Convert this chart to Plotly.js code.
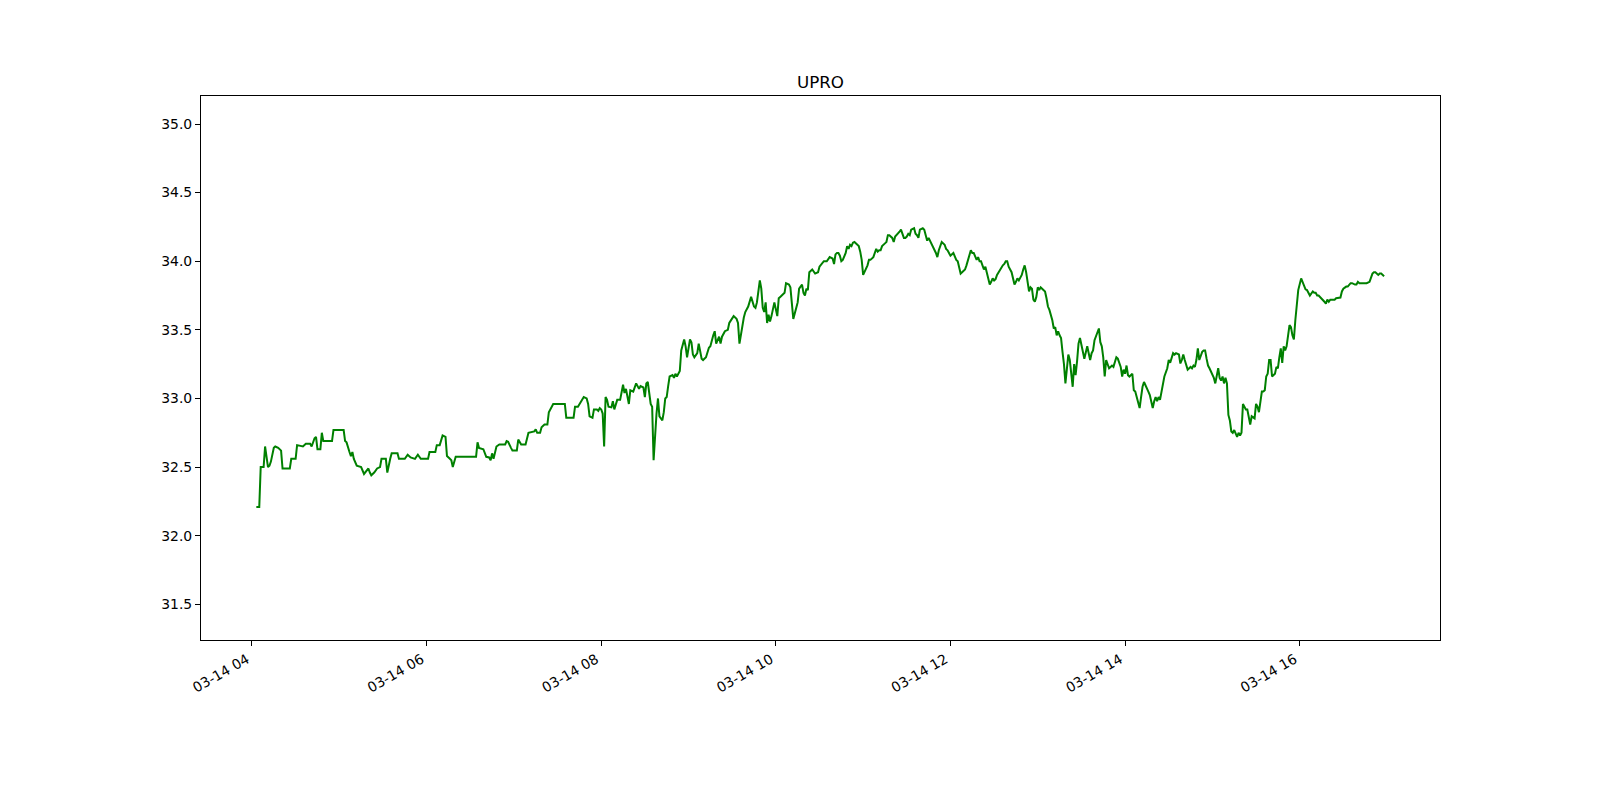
<!DOCTYPE html>
<html>
<head>
<meta charset="utf-8">
<script src="https://cdn.plot.ly/plotly-3.0.1.min.js"></script>
<style>html,body{margin:0;padding:0;background:#fff;}#chart{width:1600px;height:800px;}</style>
</head>
<body>
<div id="chart"></div>
<script>
const chartTitle = "UPRO";
const tradeDate = "2024-03-14";
const times = [
"04:03","04:05","04:06","04:08","04:09","04:11","04:12","04:13","04:15","04:16","04:18","04:20","04:21","04:26","04:27","04:30","04:31","04:35","04:37","04:40","04:41","04:43","04:44","04:45","04:47","04:48","04:49","04:55","04:56",
"05:03","05:04","05:05","05:07","05:08","05:09","05:10","05:12","05:15","05:17","05:20","05:21","05:22","05:24","05:26","05:28","05:29","05:32","05:33","05:35","05:36","05:40","05:41","05:45","05:47","05:49","05:52","05:54","05:56",
"06:01","06:02","06:06","06:07","06:09","06:11","06:13","06:14","06:16","06:17","06:18","06:20","06:34","06:35","06:36","06:39","06:41","06:43","06:44","06:45","06:46","06:47","06:48","06:50","06:54","06:55","06:56","06:58","06:59",
"07:02","07:03","07:05","07:08","07:10","07:14","07:15","07:16","07:18","07:19","07:21","07:23","07:24","07:25","07:27","07:35","07:36","07:41","07:42","07:44","07:46","07:48","07:50","07:51","07:52","07:54","07:55","07:57","07:58","07:59",
"08:00","08:01","08:02","08:03","08:04","08:05","08:07","08:08","08:09","08:11","08:13","08:15","08:16","08:17","08:19","08:20","08:22","08:24","08:26","08:27","08:29","08:30","08:31","08:32","08:34","08:35","08:36","08:37","08:38","08:39","08:40","08:42","08:43","08:44","08:45","08:46","08:47","08:49","08:50","08:51","08:52","08:54","08:55","08:57","08:58","08:59",
"09:01","09:02","09:03","09:04","09:06","09:07","09:09","09:10","09:12","09:14","09:15","09:17","09:18","09:19","09:21","09:22","09:23","09:25","09:27","09:28","09:30","09:31","09:33","09:34","09:35","09:36","09:38","09:39","09:41","09:43","09:45","09:46","09:47","09:49","09:50","09:51","09:52","09:53","09:54","09:55","09:56","09:57","09:58","09:59",
"10:01","10:02","10:03","10:04","10:06","10:07","10:09","10:10","10:11","10:12","10:14","10:15","10:16","10:18","10:19","10:20","10:21","10:22","10:23","10:25","10:27","10:29","10:30","10:33","10:35","10:37","10:39","10:40","10:41","10:42","10:43","10:44","10:45","10:46","10:48","10:49","10:50","10:51","10:52","10:53","10:54","10:56","10:57","10:58","10:59",
"11:00","11:01","11:02","11:03","11:04","11:05","11:07","11:08","11:09","11:10","11:11","11:12","11:13","11:15","11:16","11:17","11:18","11:20","11:21","11:22","11:23","11:24","11:25","11:26","11:28","11:29","11:30","11:31","11:32","11:33","11:35","11:36","11:37","11:38","11:39","11:41","11:42","11:43","11:44","11:45","11:47","11:48","11:49","11:50","11:51","11:52","11:54","11:55","11:56","11:57","11:58","11:59",
"12:00","12:02","12:03","12:04","12:05","12:06","12:07","12:08","12:10","12:11","12:12","12:13","12:14","12:15","12:16","12:18","12:19","12:20","12:21","12:22","12:23","12:24","12:26","12:27","12:28","12:29","12:30","12:31","12:32","12:34","12:35","12:36","12:37","12:38","12:39","12:40","12:42","12:43","12:44","12:45","12:46","12:47","12:49","12:50","12:51","12:52","12:53","12:54","12:55","12:56","12:57","12:58","12:59",
"13:00","13:01","13:02","13:03","13:05","13:06","13:07","13:08","13:09","13:10","13:11","13:12","13:13","13:14","13:15","13:16","13:17","13:18","13:19","13:20","13:21","13:22","13:23","13:24","13:25","13:26","13:27","13:28","13:29","13:30","13:31","13:32","13:33","13:34","13:35","13:36","13:37","13:38","13:39","13:40","13:42","13:43","13:44","13:45","13:46","13:47","13:49","13:50","13:51","13:52","13:53","13:54","13:55","13:57","13:58","13:59",
"14:00","14:01","14:02","14:03","14:05","14:06","14:07","14:08","14:09","14:10","14:11","14:12","14:13","14:14","14:16","14:17","14:18","14:19","14:20","14:21","14:22","14:23","14:24","14:25","14:26","14:27","14:29","14:30","14:31","14:32","14:33","14:34","14:35","14:37","14:38","14:39","14:40","14:41","14:42","14:43","14:45","14:46","14:47","14:48","14:49","14:50","14:51","14:53","14:54","14:55","14:56","14:57","14:58",
"15:00","15:01","15:02","15:03","15:04","15:05","15:06","15:07","15:08","15:09","15:10","15:11","15:12","15:13","15:14","15:15","15:17","15:18","15:19","15:20","15:21","15:22","15:23","15:24","15:25","15:26","15:27","15:29","15:30","15:31","15:32","15:33","15:34","15:35","15:36","15:37","15:38","15:39","15:40","15:41","15:43","15:44","15:45","15:46","15:47","15:48","15:49","15:50","15:51","15:53","15:54","15:55","15:56","15:57","15:58","15:59",
"16:01","16:02","16:03","16:04","16:05","16:06","16:07","16:09","16:10","16:11","16:12","16:13","16:14","16:15","16:17","16:18","16:19","16:20","16:21","16:22","16:24","16:25","16:26","16:28","16:29","16:30","16:32","16:33","16:35","16:36","16:38","16:39","16:40","16:41","16:42","16:44","16:46","16:48","16:49","16:50","16:51","16:52","16:54","16:55","16:56","16:57","16:58"
];
const prices = [
32.21,32.21,32.50,32.50,32.65,32.50,32.51,32.54,32.64,32.65,32.64,32.62,32.49,32.49,32.56,32.56,32.66,32.65,32.67,32.67,32.65,32.71,32.72,32.63,32.63,32.75,32.69,32.69,32.77,
32.77,32.69,32.68,32.61,32.58,32.61,32.56,32.51,32.50,32.45,32.49,32.46,32.44,32.46,32.49,32.50,32.56,32.56,32.46,32.56,32.60,32.60,32.56,32.56,32.59,32.57,32.56,32.59,32.56,
32.56,32.61,32.61,32.66,32.66,32.73,32.72,32.58,32.56,32.55,32.50,32.575,32.575,32.68,32.64,32.63,32.575,32.57,32.55,32.60,32.56,32.60,32.65,32.665,32.665,32.69,32.685,32.64,32.62,
32.62,32.70,32.665,32.665,32.75,32.76,32.775,32.75,32.75,32.79,32.81,32.81,32.90,32.92,32.96,32.96,32.86,32.86,32.94,32.94,32.98,33.01,33.00,32.96,32.87,32.86,32.92,32.92,32.91,32.93,
32.92,32.89,32.65,33.01,32.99,32.94,32.935,32.98,32.92,32.99,32.99,33.10,33.04,33.07,32.96,33.06,33.05,33.11,33.07,33.09,33.08,33.01,33.11,33.12,32.96,32.94,32.55,32.75,32.89,33.00,32.87,32.84,32.90,33.00,33.01,33.09,33.16,33.17,33.15,33.18,33.16,33.20,33.35,33.43,33.38,33.30,
33.43,33.41,33.32,33.30,33.33,33.40,33.29,33.28,33.30,33.37,33.38,33.46,33.49,33.40,33.45,33.40,33.45,33.49,33.50,33.55,33.58,33.60,33.58,33.55,33.40,33.47,33.59,33.63,33.67,33.74,33.67,33.66,33.70,33.86,33.80,33.66,33.63,33.70,33.55,33.61,33.56,33.60,33.66,33.70,
33.60,33.73,33.74,33.75,33.77,33.84,33.83,33.81,33.69,33.58,33.66,33.70,33.80,33.83,33.77,33.75,33.80,33.79,33.92,33.94,33.91,33.92,33.96,34.00,34.00,34.03,34.02,33.98,34.05,34.06,34.06,34.04,34.00,34.01,34.06,34.11,34.09,34.12,34.11,34.135,34.14,34.12,34.11,34.07,34.01,
33.90,33.92,33.95,33.97,34.01,34.01,34.03,34.06,34.09,34.07,34.08,34.08,34.11,34.13,34.14,34.19,34.19,34.17,34.14,34.18,34.19,34.20,34.215,34.23,34.17,34.17,34.18,34.20,34.19,34.23,34.24,34.20,34.19,34.17,34.23,34.24,34.23,34.19,34.15,34.17,34.13,34.11,34.08,34.06,34.03,34.08,34.14,34.13,34.12,34.09,34.08,34.06,
34.04,34.06,34.03,34.01,34.00,33.96,33.91,33.92,33.94,33.97,34.01,34.05,34.08,34.06,34.06,34.01,34.03,34.00,34.00,33.97,33.94,33.96,33.875,33.83,33.85,33.875,33.86,33.87,33.90,33.94,33.96,33.97,33.98,34.00,34.00,33.96,33.92,33.86,33.83,33.85,33.875,33.86,33.90,33.94,33.97,33.92,33.83,33.78,33.81,33.80,33.72,33.705,33.74,
33.81,33.79,33.81,33.80,33.78,33.73,33.67,33.645,33.61,33.57,33.51,33.52,33.46,33.49,33.46,33.44,33.34,33.25,33.11,33.22,33.32,33.28,33.18,33.085,33.25,33.17,33.27,33.40,33.44,33.40,33.34,33.29,33.35,33.38,33.33,33.28,33.33,33.35,33.425,33.45,33.51,33.41,33.38,33.30,33.16,33.28,33.22,33.23,33.24,33.23,33.27,33.30,33.29,33.23,33.16,33.21,
33.18,33.24,33.17,33.16,33.18,33.06,33.05,33.01,32.98,32.93,33.01,33.085,33.12,33.10,33.05,33.025,32.98,32.93,32.98,33.01,32.98,33.01,32.99,33.04,33.10,33.16,33.22,33.28,33.26,33.29,33.33,33.32,33.33,33.32,33.255,33.28,33.32,33.28,33.24,33.21,33.23,33.22,33.24,33.23,33.28,33.365,33.28,33.34,33.35,33.35,33.29,33.24,33.22,
33.18,33.15,33.11,33.16,33.22,33.15,33.13,33.16,33.11,33.15,33.11,32.88,32.84,32.76,32.75,32.77,32.72,32.75,32.73,32.75,32.96,32.94,32.92,32.92,32.86,32.81,32.87,32.855,32.96,32.94,32.90,32.96,33.05,33.05,33.06,33.16,33.18,33.28,33.28,33.16,33.18,33.23,33.22,33.30,33.365,33.26,33.38,33.35,33.38,33.535,33.52,33.46,33.43,33.57,33.70,33.79,
33.875,33.85,33.815,33.795,33.79,33.77,33.75,33.78,33.77,33.77,33.75,33.75,33.74,33.73,33.705,33.69,33.72,33.705,33.72,33.72,33.72,33.73,33.73,33.735,33.78,33.80,33.815,33.815,33.84,33.84,33.83,33.83,33.85,33.84,33.84,33.84,33.84,33.85,33.89,33.91,33.92,33.92,33.90,33.91,33.91,33.90,33.89
];
const xRange = ["2024-03-14 03:24:58", "2024-03-14 17:36:25"];
const yRange = [31.24, 35.204];

const font = {family: "DejaVu Sans, sans-serif", size: 13.9, color: "#000"};
const trace = {
  x: times.map(t => tradeDate + " " + t),
  y: prices,
  type: "scatter",
  mode: "lines",
  line: {color: "#008000", width: 2},
  hoverinfo: "skip"
};
const axisCommon = {
  showgrid: false, zeroline: false, showline: true, mirror: true,
  linecolor: "#000", linewidth: 1, ticks: "outside", ticklen: 5,
  tickcolor: "#000", tickwidth: 1, tickfont: font
};
const layout = {
  width: 1600, height: 800,
  margin: {l: 201, r: 160, t: 96, b: 160, pad: 0},
  paper_bgcolor: "#fff", plot_bgcolor: "#fff",
  showlegend: false,
  font: font,
  title: {text: chartTitle, font: {family: "DejaVu Sans, sans-serif", size: 16.7, color: "#000"},
          x: 0.5, xref: "paper", xanchor: "center", y: 1 - 88/800, yref: "container", yanchor: "bottom"},
  xaxis: Object.assign({}, axisCommon, {
    type: "date", range: xRange, tickformat: "%m-%d %H",
    tick0: "2024-03-14 00:00", dtick: 7200000, tickangle: -30,
    ticklabelshift: -5
  }),
  yaxis: Object.assign({}, axisCommon, {
    range: yRange, tick0: 0, dtick: 0.5, tickformat: ".1f"
  })
};
Plotly.newPlot("chart", [trace], layout, {staticPlot: true, displayModeBar: false});
</script>
</body>
</html>
